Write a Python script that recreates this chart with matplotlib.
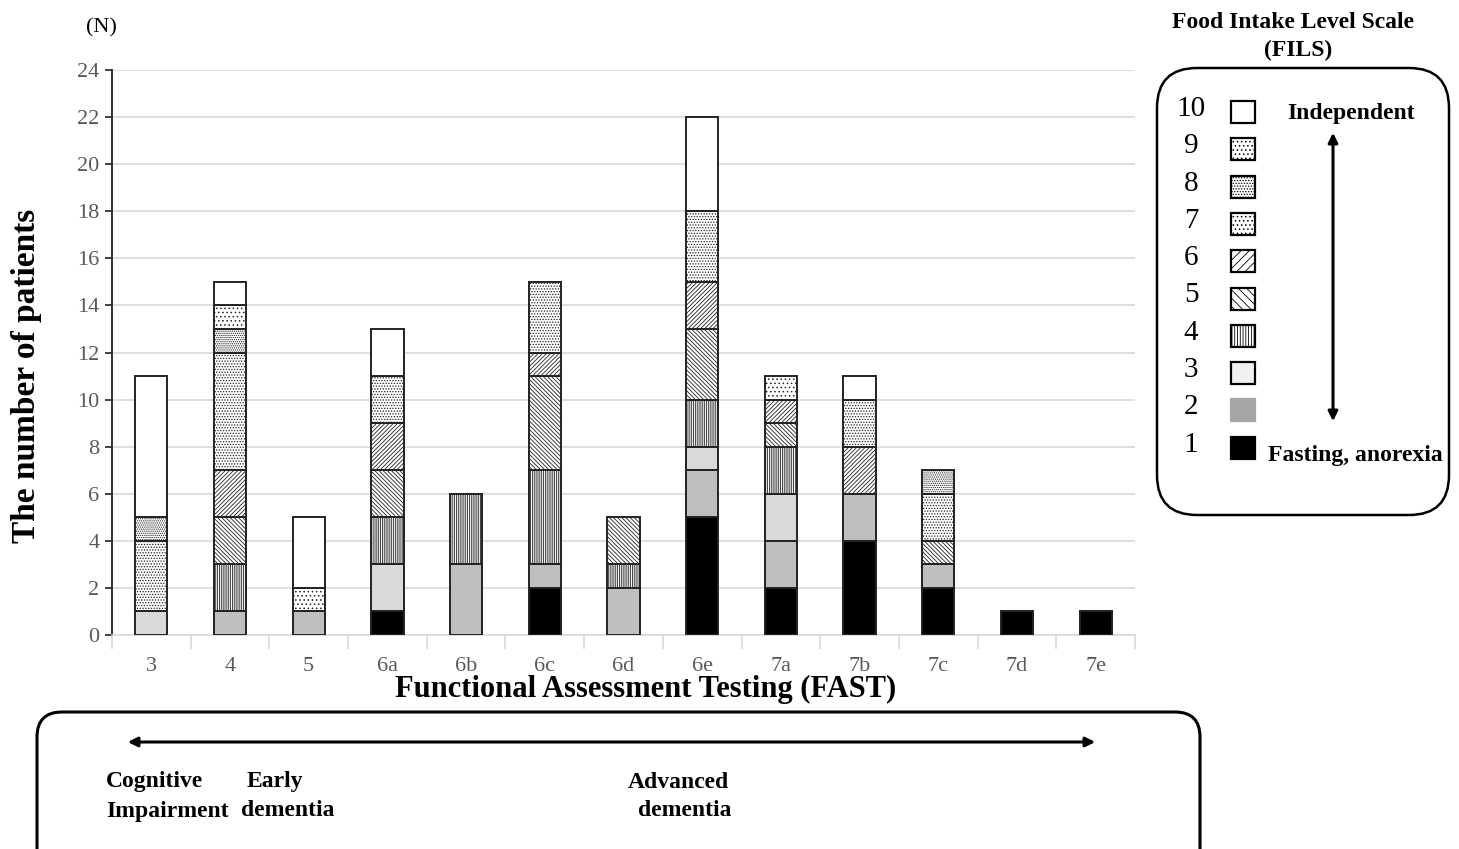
import numpy as np
import matplotlib
matplotlib.use('Agg')
import matplotlib.pyplot as plt
from matplotlib.patches import Rectangle, FancyBboxPatch, FancyArrowPatch

# ── data ─────────────────────────────────────────────
categories = ['3', '4', '5', '6a', '6b', '6c', '6d', '6e', '7a', '7b', '7c', '7d', '7e']
fils1  = [0, 0, 0, 1, 0, 2, 0, 5, 2, 4, 2, 1, 1]
fils2  = [0, 1, 1, 0, 3, 1, 2, 2, 2, 2, 1, 0, 0]
fils3  = [1, 0, 0, 2, 0, 0, 0, 1, 2, 0, 0, 0, 0]
fils4  = [0, 2, 0, 2, 3, 4, 1, 2, 2, 0, 0, 0, 0]
fils5  = [0, 2, 0, 2, 0, 4, 2, 3, 1, 0, 1, 0, 0]
fils6  = [0, 2, 0, 2, 0, 1, 0, 2, 1, 2, 0, 0, 0]
fils7  = [3, 5, 0, 2, 0, 3, 0, 3, 0, 2, 2, 0, 0]
fils8  = [1, 1, 0, 0, 0, 0, 0, 0, 0, 0, 1, 0, 0]
fils9  = [0, 1, 1, 0, 0, 0, 0, 0, 1, 0, 0, 0, 0]
fils10 = [6, 1, 3, 2, 0, 0, 0, 4, 0, 1, 0, 0, 0]
series = [fils1, fils2, fils3, fils4, fils5, fils6, fils7, fils8, fils9, fils10]
level_labels = ['1', '2', '3', '4', '5', '6', '7', '8', '9', '10']

# ── styles (level 1 .. 10) ───────────────────────────
FACES   = ['#000000', '#bfbfbf', '#d9d9d9', 'white', 'white',
           'white', 'white', 'white', 'white', 'white']
HATCHES = [None, None, None, '|' * 9, '\\' * 8, '/' * 8,
           '.' * 6, '.' * 8, '.' * 4, None]
LEG_FACES = ['#000000', '#a6a6a6', '#f0f0f0', 'white', 'white',
             'white', 'white', 'white', 'white', 'white']
LEG_HATCH = [None, None, None, '|' * 6, '\\' * 4, '/' * 4,
             '.' * 4, '.' * 6, '.' * 4, None]

SERIF = ['Liberation Serif', 'DejaVu Serif']
plt.rcParams['font.family'] = SERIF
plt.rcParams['hatch.linewidth'] = 0.6

W, H = 1459, 849
fig = plt.figure(figsize=(W / 100, H / 100), dpi=100)
fig.patch.set_facecolor('white')

ax = fig.add_axes([112 / W, 1 - 635 / H, (1135 - 112) / W, (635 - 70) / H])
x = np.arange(len(categories))
bottom = np.zeros(len(categories))
for k, vals in enumerate(series):
    vals = np.array(vals, dtype=float)
    m = vals > 0
    ax.bar(x[m], vals[m], width=0.41, bottom=bottom[m], color=FACES[k],
           hatch=HATCHES[k], edgecolor='#222222', linewidth=1.4, zorder=3)
    bottom += vals

ax.set_xlim(-0.5, len(categories) - 0.5)
ax.set_ylim(0, 24)
ax.set_yticks(range(0, 25, 2))
ax.set_xticks(x)
ax.set_xticklabels(categories)
ax.set_xticks(np.arange(-0.5, len(categories), 1), minor=True)
ax.tick_params(axis='x', which='major', length=0, labelsize=16,
               labelcolor='#595959', pad=16)
ax.tick_params(axis='x', which='minor', length=10, color='#d9d9d9', width=1.2)
ax.tick_params(axis='y', length=5, width=1.2, color='#222222',
               labelsize=16, labelcolor='#595959', pad=4)
ax.grid(axis='y', color='#d9d9d9', lw=1.2, zorder=0)
ax.set_axisbelow(True)
for s in ['top', 'right']:
    ax.spines[s].set_visible(False)
ax.spines['left'].set_color('#222222')
ax.spines['left'].set_linewidth(1.3)
ax.spines['bottom'].set_color('#d9d9d9')
ax.spines['bottom'].set_linewidth(1.2)

ax.set_ylabel('The number of patients', fontsize=24, fontweight='bold')
ax.yaxis.set_label_coords(-0.068, 0.458)
ax.set_xlabel('Functional Assessment Testing (FAST)', fontsize=22,
              fontweight='bold')
ax.xaxis.set_label_coords(0.522, -0.07)

# ── overlay in pixel coordinates ─────────────────────
ov = fig.add_axes([0, 0, 1, 1])
ov.set_xlim(0, W)
ov.set_ylim(H, 0)
ov.axis('off')
ov.patch.set_alpha(0)

ov.text(101, 28, '(N)', fontsize=16, ha='center', va='center')

# legend box
ov.add_patch(FancyBboxPatch((1157 + 40, 68 + 40), 292 - 80, 447 - 80,
                            boxstyle='round,pad=40', fc='none', ec='black', lw=1.8))
ov.text(1293, 22, 'Food Intake Level Scale', fontsize=17, fontweight='bold',
        ha='center', va='center')
ov.text(1298, 50, '(FILS)', fontsize=17, fontweight='bold', ha='center', va='center')
for i in range(10):
    k = 9 - i
    yc = 111 + i * 37.3
    ov.text(1191, yc - 2, level_labels[k], fontsize=21, ha='center', va='center')
    ov.add_patch(Rectangle((1231, yc - 10), 24, 22, fc=LEG_FACES[k],
                           hatch=LEG_HATCH[k],
                           ec='black' if k != 1 else LEG_FACES[k], lw=1.6))
ov.text(1287, 113, 'Independent', fontsize=17, fontweight='bold', va='center')
ov.text(1268, 455, 'Fasting, anorexia', fontsize=17, fontweight='bold', va='center')
ov.add_patch(FancyArrowPatch((1333, 130), (1333, 424), arrowstyle='<|-|>',
                             mutation_scale=14, color='black', lw=2.2))

# stage box
ov.add_patch(FancyBboxPatch((37 + 25, 712 + 25), 1163 - 50, 200,
                            boxstyle='round,pad=25', fc='none', ec='black', lw=2.2))
ov.add_patch(FancyArrowPatch((125, 742), (1098, 742), arrowstyle='<|-|>',
                             mutation_scale=14, color='black', lw=2.2))
ov.text(106, 782, 'Cognitive', fontsize=17, fontweight='bold', va='center')
ov.text(106, 811, 'Impairment', fontsize=17, fontweight='bold', va='center')
ov.text(247, 782, 'Early', fontsize=17, fontweight='bold', va='center')
ov.text(241, 811, 'dementia', fontsize=17, fontweight='bold', va='center')
ov.text(628, 782, 'Advanced', fontsize=17, fontweight='bold', va='center')
ov.text(638, 811, 'dementia', fontsize=17, fontweight='bold', va='center')

fig.savefig('out.png', dpi=100, facecolor='white')
